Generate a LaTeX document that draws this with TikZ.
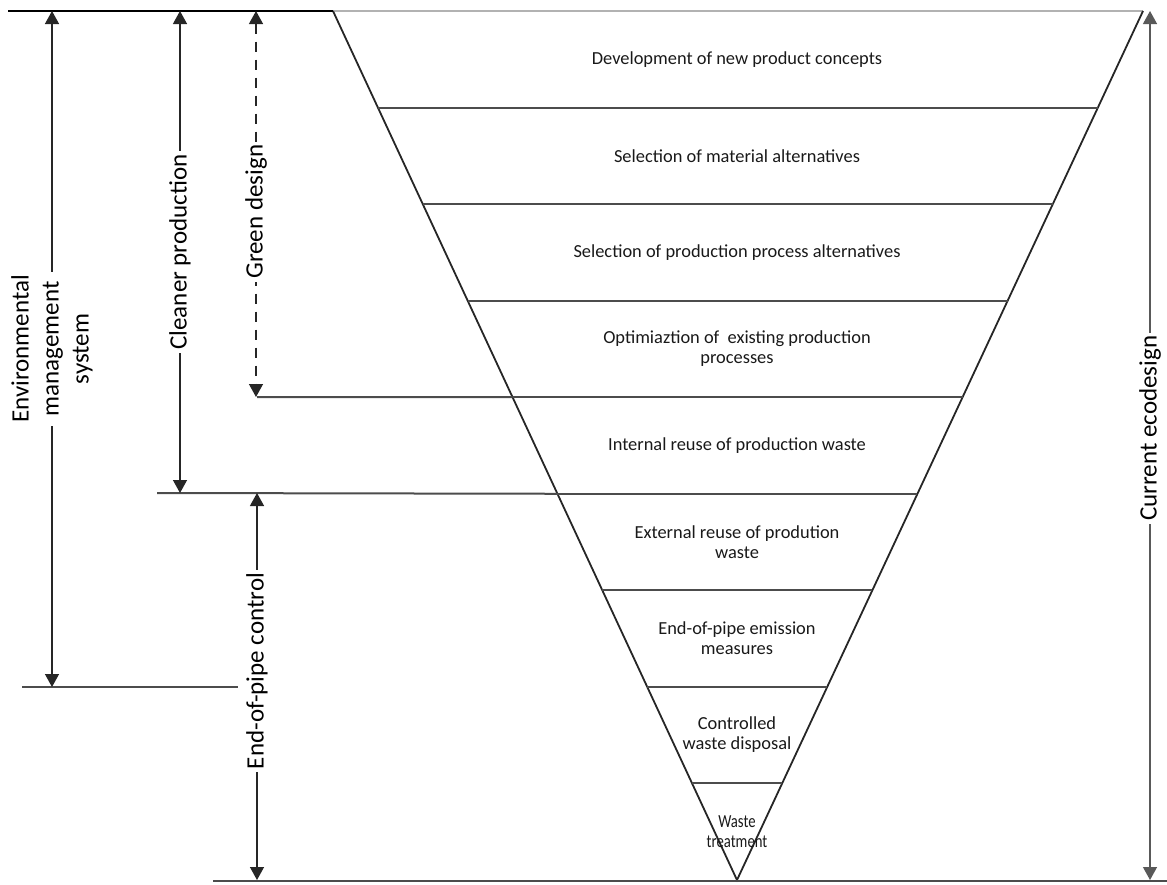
\documentclass[tikz,border=0pt]{standalone}
\usepackage{fontspec}
\setmainfont{Carlito}
\usepackage{graphicx}
\usetikzlibrary{arrows.meta, calc}
\tikzset{
  rng/.style={{Triangle[length=6.5pt, width=7pt]}-{Triangle[length=6.5pt, width=7pt]}, line width=0.65pt, draw=black!85},
  rlab/.style={rotate=90, fill=white, inner sep=1.5pt, align=center, font=\fontsize{12.5}{15}\selectfont},
  blab/.style={align=center, text=black!90, font=\fontsize{9.2}{10}\selectfont},
  edge/.style={line width=0.9pt, draw=black!85},
  band/.style={line width=1pt, draw=black!70}
}
\begin{document}
\begin{tikzpicture}[x=0.5pt, y=-0.5pt]
	\useasboundingbox (0,0) rectangle (1167,884);
	% funnel
	\coordinate (TL) at (333,11);
	\coordinate (TR) at (1143,11);
	\coordinate (tip) at (737,880);
	\draw[line width=0.9pt, draw=black!30] (TL) -- (TR);
	\draw[edge] (TL) -- (tip) -- (TR);
	\foreach \k in {1,...,8}
		\draw[band] ($(TL)!\k/9!(tip)$) -- ($(TR)!\k/9!(tip)$);
	\foreach \k/\t in {1/{Development of new product concepts},
			2/{Selection of material alternatives},
			3/{Selection of production process alternatives},
			4/{Optimiaztion of~ existing production\\processes},
			5/{Internal reuse of production waste},
			6/{External reuse of prodution\\waste},
			7/{End-of-pipe emission\\measures},
			8/{Controlled\\waste disposal}}
		\node[blab] (b\k) at (737,{11+96.5*(\k-0.5)}) {\t};
	\node[blab] (b9) at (737,{11+96.5*8.5}) {\scalebox{0.8}[1]{Waste}\\\scalebox{0.8}[1]{treatment}};
	% border lines
	\coordinate (topL) at (8,11);
	\coordinate (botL) at (213,881);
	\coordinate (botR) at (1167,881);
	\coordinate (emsL) at (22,687);
	\coordinate (emsR) at (238,687);
	\coordinate (gdL) at (257,397);
	\coordinate (cpL) at (157,493);
	\draw[line width=1.2pt] (topL) -- (TL);
	\draw[band] (botL) -- (botR);
	\draw[band] (emsL) -- (emsR);
	\draw[band] (gdL) -- ($(TL)!4/9!(tip)$);
	\draw[band] (cpL) -- ($(TL)!5/9!(tip)$);
	% ranges
	\coordinate (emsT) at (52,11);
	\coordinate (emsB) at (52,687);
	\coordinate (cpT) at (180,11);
	\coordinate (cpB) at (180,493);
	\coordinate (gdT) at (256,11);
	\coordinate (gdB) at (256,397);
	\coordinate (epT) at (257,493);
	\coordinate (epB) at (257,880);
	\coordinate (ceT) at (1150,11);
	\coordinate (ceB) at (1150,880);
	\draw[rng] (emsT) -- (emsB) node[midway, rlab] (ems) {Environmental\\management\\system};
	\draw[rng] (cpT) -- (cpB) node[midway, rlab] (cp) {Cleaner production};
	\draw[rng, dash pattern=on 5pt off 4pt] (gdT) -- (gdB) node[pos=0.52, rlab] (gd) {Green design};
	\draw[rng] (epT) -- (epB) node[pos=0.46, rlab] (ep) {End-of-pipe control};
	\draw[rng, draw=black!65] (ceT) -- (ceB) node[pos=0.48, rlab] (ce) {Current ecodesign};
\end{tikzpicture}
\end{document}
